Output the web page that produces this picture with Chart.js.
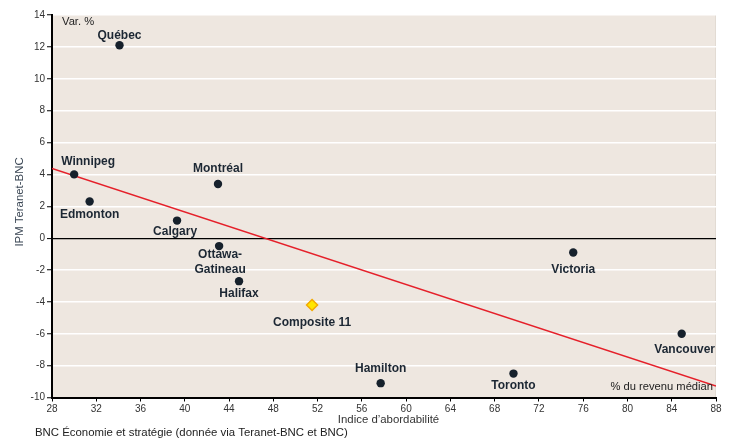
<!DOCTYPE html>
<html><head><meta charset="utf-8">
<script src="https://cdn.jsdelivr.net/npm/chart.js@4/dist/chart.umd.min.js"></script>
<style>html,body{margin:0;padding:0;background:#fff}#wrap{width:734px;height:440px;position:relative}</style>
</head><body><div id="wrap"><canvas id="c" width="734" height="440"></canvas></div>
<script>
// ---- data ----
const cities = ['Québec','Winnipeg','Edmonton','Montréal','Calgary','Ottawa-\nGatineau','Halifax','Hamilton','Toronto','Victoria','Vancouver'];
const affordability = [34.1, 30.0, 31.4, 43.0, 39.3, 43.1, 44.9, 57.7, 69.7, 75.1, 84.9];
const priceChange   = [12.1, 4.0, 2.3, 3.4, 1.1, -0.5, -2.7, -9.1, -8.5, -0.9, -6.0];
const compositeName = 'Composite 11';
const compositeX = [51.5];
const compositeY = [-4.2];
const trendX = [28, 88];
const trendY = [4.37, -9.28];
const xTicks = [28, 32, 36, 40, 44, 48, 52, 56, 60, 64, 68, 72, 76, 80, 84, 88];
const yTicks = [-10, -8, -6, -4, -2, 0, 2, 4, 6, 8, 10, 12, 14];

// ---- label placement (pixels relative to point) ----
const cityLabelOffsets = [[0,-10],[14,-13],[0,13],[0,-15],[-2,11],[1,9],[0,13],[0,-14],[0,12],[0,17],[3,16]];
const compositeLabelOffset = [0,18];

const FONT = "'Liberation Sans', Arial, sans-serif";

const bgPlugin = {
  id: 'bg',
  beforeDraw(chart) {
    const {ctx, chartArea: a} = chart;
    ctx.save();
    ctx.fillStyle = '#eee7e0';
    ctx.fillRect(a.left, a.top, a.right - a.left, a.bottom - a.top);
    ctx.strokeStyle = '#e2dbd3';
    ctx.lineWidth = 1;
    ctx.beginPath(); ctx.moveTo(a.right - 0.5, a.top); ctx.lineTo(a.right - 0.5, a.bottom); ctx.stroke();
    ctx.restore();
  }
};

const labelPlugin = {
  id: 'labels',
  afterDraw(chart) {
    const ctx = chart.ctx;
    ctx.save();
    ctx.textAlign = 'center';
    ctx.textBaseline = 'middle';
    ctx.fillStyle = '#1c2733';
    ctx.font = 'bold 12px ' + FONT;
    const meta = chart.getDatasetMeta(1);
    meta.data.forEach((pt, i) => {
      const lines = cities[i].split('\n');
      const [dx, dy] = cityLabelOffsets[i];
      lines.forEach((ln, j) => ctx.fillText(ln, pt.x + dx, pt.y + dy + j * 15));
    });
    const cm = chart.getDatasetMeta(2);
    cm.data.forEach(pt => ctx.fillText(compositeName, pt.x + compositeLabelOffset[0], pt.y + compositeLabelOffset[1]));

    const a = chart.chartArea;
    ctx.font = '11.2px ' + FONT;
    ctx.fillStyle = '#222';
    ctx.textAlign = 'left';
    ctx.fillText('Var. %', a.left + 10, a.top + 7);
    ctx.textAlign = 'right';
    ctx.fillText('% du revenu médian', a.right - 3, a.bottom - 11);

    ctx.font = '11.4px ' + FONT;
    ctx.fillStyle = '#333';
    ctx.textAlign = 'center';
    ctx.fillText('Indice d’abordabilité', 388.5, 420);
    ctx.textAlign = 'left';
    ctx.fillStyle = '#222';
    ctx.fillText('BNC Économie et stratégie (donnée via Teranet-BNC et BNC)', 35, 433);

    ctx.save();
    ctx.translate(19.5, 202);
    ctx.rotate(-Math.PI / 2);
    ctx.textAlign = 'center';
    ctx.fillStyle = '#3a4654';
    ctx.fillText('IPM Teranet-BNC', 0, 0);
    ctx.restore();
    ctx.restore();
  }
};

new Chart(document.getElementById('c'), {
  type: 'scatter',
  data: {
    datasets: [
      {
        label: 'Tendance',
        data: trendX.map((x, i) => ({x, y: trendY[i]})),
        showLine: true,
        borderColor: '#e5202a',
        borderWidth: 1.6,
        pointRadius: 0,
        order: 3
      },
      {
        label: 'Villes',
        data: affordability.map((x, i) => ({x, y: priceChange[i]})),
        pointRadius: 4.2,
        backgroundColor: '#16212c',
        borderWidth: 0,
        order: 1
      },
      {
        label: compositeName,
        data: compositeX.map((x, i) => ({x, y: compositeY[i]})),
        pointStyle: 'rectRot',
        pointRadius: 5.5,
        backgroundColor: '#ffe600',
        borderColor: '#f2a900',
        borderWidth: 1.5,
        order: 2
      }
    ]
  },
  options: {
    responsive: false,
    devicePixelRatio: 1,
    animation: false,
    layout: {padding: {left: 0, top: 15, right: 18, bottom: 0}},
    plugins: {legend: {display: false}, tooltip: {enabled: false}},
    scales: {
      x: {
        type: 'linear', min: 28, max: 88,
        afterBuildTicks: s => { s.ticks = xTicks.map(v => ({value: v})); },
        afterFit: s => { s.height = 42.5; },
        border: {color: '#000', width: 2},
        grid: {drawOnChartArea: false, drawTicks: true, tickLength: 4, tickColor: '#000', tickWidth: 1},
        ticks: {font: {family: FONT, size: 10}, color: '#333', padding: 2, maxRotation: 0, autoSkip: false}
      },
      y: {
        type: 'linear', min: -10, max: 14,
        afterBuildTicks: s => { s.ticks = yTicks.map(v => ({value: v})); },
        afterFit: s => { s.width = 52; },
        border: {color: '#000', width: 2},
        grid: {
          color: c => (c.tick && c.tick.value === 0) ? '#000' : '#ffffff',
          lineWidth: c => (c.tick && c.tick.value === 0) ? 1.2 : 1.5,
          tickLength: 5, tickColor: '#000', tickWidth: 1, drawTicks: true
        },
        ticks: {font: {family: FONT, size: 10}, color: '#333', padding: 2, autoSkip: false}
      }
    }
  },
  plugins: [bgPlugin, labelPlugin]
});
</script>
</body></html>
